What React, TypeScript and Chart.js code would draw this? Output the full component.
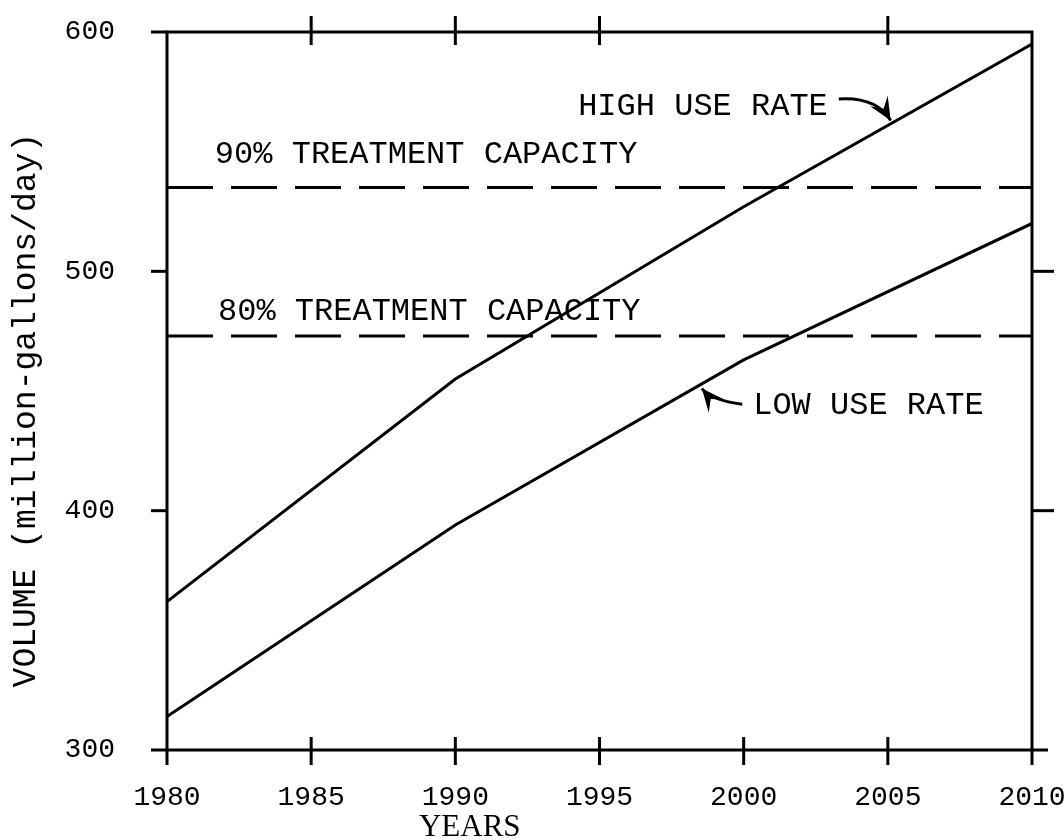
import React, { useEffect, useRef } from "react";
import { Chart, registerables } from "chart.js";

Chart.register(...registerables);

const years = [1980, 1990, 2000, 2010];
const highUseRate = [362, 455, 527, 595];
const lowUseRate = [314, 394, 463, 520];
const capacityYears = [1980, 2010];
const capacity90 = [535, 535];
const capacity80 = [473, 473];

const xTickValues = [1980, 1985, 1990, 1995, 2000, 2005, 2010];
const yTickValues = [300, 400, 500, 600];
const topTickValues = [1985, 1990, 1995, 2005];
const rightTickValues = [400, 500];

const xTitle = "YEARS";
const yTitle = "VOLUME (million-gallons/day)";

// text annotations: text, year (left edge), value (vertical centre)
const labelTexts = ["90% TREATMENT CAPACITY", "80% TREATMENT CAPACITY", "HIGH USE RATE", "LOW USE RATE"];
const labelYears = [1981.66, 1981.77, 1994.26, 2000.33];
const labelValues = [549, 483, 569, 444];

// arrows: tail, control, tip (year, value)
const arrowTailYears = [2003.3, 1999.95];
const arrowTailValues = [572, 444.5];
const arrowCtrlYears = [2004.6, 1998.9];
const arrowCtrlValues = [573, 446];
const arrowTipYears = [2005.1, 1998.55];
const arrowTipValues = [563, 451];

const MONO = '"Liberation Mono", "DejaVu Sans Mono", monospace';

const decorPlugin = {
  id: "decor",
  afterDraw(chart: any) {
    const { ctx, chartArea, scales } = chart;
    const xs = scales.x;
    const ys = scales.y;
    const L = chartArea.left, R = chartArea.right, T = chartArea.top, B = chartArea.bottom;
    ctx.save();
    ctx.strokeStyle = "#000";
    ctx.fillStyle = "#000";
    ctx.lineCap = "butt";

    // frame
    ctx.lineWidth = 3;
    ctx.beginPath();
    ctx.rect(L, T, R - L, B - T);
    ctx.stroke();

    // left ticks (outward)
    yTickValues.forEach((v) => {
      const y = ys.getPixelForValue(v);
      ctx.beginPath();
      ctx.moveTo(L - 16, y);
      ctx.lineTo(L, y);
      ctx.stroke();
    });
    // right ticks (outward)
    rightTickValues.forEach((v) => {
      const y = ys.getPixelForValue(v);
      ctx.beginPath();
      ctx.moveTo(R, y);
      ctx.lineTo(R + 22, y);
      ctx.stroke();
    });
    ctx.beginPath();
    ctx.moveTo(R, B);
    ctx.lineTo(R + 16, B);
    ctx.stroke();

    // bottom ticks (crossing)
    xTickValues.forEach((v) => {
      const x = xs.getPixelForValue(v);
      const up = v === 1980 || v === 2010 ? 0 : 13;
      ctx.beginPath();
      ctx.moveTo(x, B - up);
      ctx.lineTo(x, B + 15);
      ctx.stroke();
    });
    // top ticks (crossing)
    topTickValues.forEach((v) => {
      const x = xs.getPixelForValue(v);
      ctx.beginPath();
      ctx.moveTo(x, T - 16);
      ctx.lineTo(x, T + 13);
      ctx.stroke();
    });

    // annotation texts
    ctx.font = "32px " + MONO;
    ctx.textAlign = "left";
    ctx.textBaseline = "middle";
    labelTexts.forEach((t, i) => {
      ctx.fillText(t, xs.getPixelForValue(labelYears[i]), ys.getPixelForValue(labelValues[i]));
    });

    // arrows
    arrowTailYears.forEach((_, i) => {
      const x0 = xs.getPixelForValue(arrowTailYears[i]);
      const y0 = ys.getPixelForValue(arrowTailValues[i]);
      const cx = xs.getPixelForValue(arrowCtrlYears[i]);
      const cy = ys.getPixelForValue(arrowCtrlValues[i]);
      const x1 = xs.getPixelForValue(arrowTipYears[i]);
      const y1 = ys.getPixelForValue(arrowTipValues[i]);
      ctx.lineWidth = 3;
      ctx.beginPath();
      ctx.moveTo(x0, y0);
      ctx.quadraticCurveTo(cx, cy, x1, y1);
      ctx.stroke();
      const ang = Math.atan2(y1 - cy, x1 - cx);
      const len = 25, w = 0.42;
      ctx.beginPath();
      ctx.moveTo(x1, y1);
      ctx.lineTo(x1 - len * Math.cos(ang - w), y1 - len * Math.sin(ang - w));
      ctx.lineTo(x1 - len * 0.55 * Math.cos(ang), y1 - len * 0.55 * Math.sin(ang));
      ctx.lineTo(x1 - len * Math.cos(ang + w), y1 - len * Math.sin(ang + w));
      ctx.closePath();
      ctx.fill();
    });

    // y title
    ctx.save();
    ctx.translate(L - 141, ys.getPixelForValue(442));
    ctx.rotate(-Math.PI / 2);
    ctx.font = "33px " + MONO;
    ctx.textAlign = "center";
    ctx.textBaseline = "middle";
    ctx.fillText(yTitle, 0, 0);
    ctx.restore();

    // x title
    ctx.font = '31px "Liberation Serif", "DejaVu Serif", serif';
    ctx.textAlign = "center";
    ctx.textBaseline = "middle";
    ctx.fillText(xTitle, xs.getPixelForValue(1990.5), B + 78);

    ctx.restore();
  },
};

export default function App() {
  const ref = useRef<HTMLCanvasElement>(null);
  useEffect(() => {
    if (!ref.current) return;
    const toPts = (xsArr: number[], ysArr: number[]) => xsArr.map((x, i) => ({ x, y: ysArr[i] }));
    const chart = new Chart(ref.current, {
      type: "line",
      data: {
        datasets: [
          { label: "High use rate", data: toPts(years, highUseRate), borderColor: "#000", borderWidth: 3, pointRadius: 0, tension: 0 },
          { label: "Low use rate", data: toPts(years, lowUseRate), borderColor: "#000", borderWidth: 3, pointRadius: 0, tension: 0 },
          { label: "90% treatment capacity", data: toPts(capacityYears, capacity90), borderColor: "#000", borderWidth: 3, borderDash: [46, 18], pointRadius: 0 },
          { label: "80% treatment capacity", data: toPts(capacityYears, capacity80), borderColor: "#000", borderWidth: 3, borderDash: [46, 18], pointRadius: 0 },
        ],
      },
      options: {
        animation: false,
        responsive: true,
        maintainAspectRatio: false,
        layout: { padding: { top: 32, right: 32, left: 0, bottom: 0 } },
        plugins: { legend: { display: false }, tooltip: { enabled: false } },
        scales: {
          x: {
            type: "linear",
            min: 1980,
            max: 2010,
            grid: { display: false, drawTicks: false },
            border: { display: false },
            afterFit: (s: any) => { s.height = 90; s.paddingLeft = 0; s.paddingRight = 0; s.paddingTop = 0; s.paddingBottom = 0; },
            afterBuildTicks: (s: any) => { s.ticks = xTickValues.map((v) => ({ value: v })); },
            ticks: {
              color: "#000",
              font: { family: MONO, size: 28 },
              padding: 31,
              maxRotation: 0,
              autoSkip: false,
              callback: (v: any) => String(v),
            },
          },
          y: {
            min: 300,
            max: 600,
            grid: { display: false, drawTicks: false },
            border: { display: false },
            afterFit: (s: any) => { s.width = 167; s.paddingTop = 0; s.paddingBottom = 0; s.paddingLeft = 0; s.paddingRight = 0; },
            afterBuildTicks: (s: any) => { s.ticks = yTickValues.map((v) => ({ value: v })); },
            ticks: {
              color: "#000",
              font: { family: MONO, size: 28 },
              padding: 52,
              callback: (v: any) => String(v),
            },
          },
        },
      },
      plugins: [decorPlugin],
    });
    return () => chart.destroy();
  }, []);
  return (
    <div style={{ position: "fixed", left: 0, top: 0, width: 1064, height: 840, background: "#fff" }}>
      <canvas ref={ref} />
    </div>
  );
}
